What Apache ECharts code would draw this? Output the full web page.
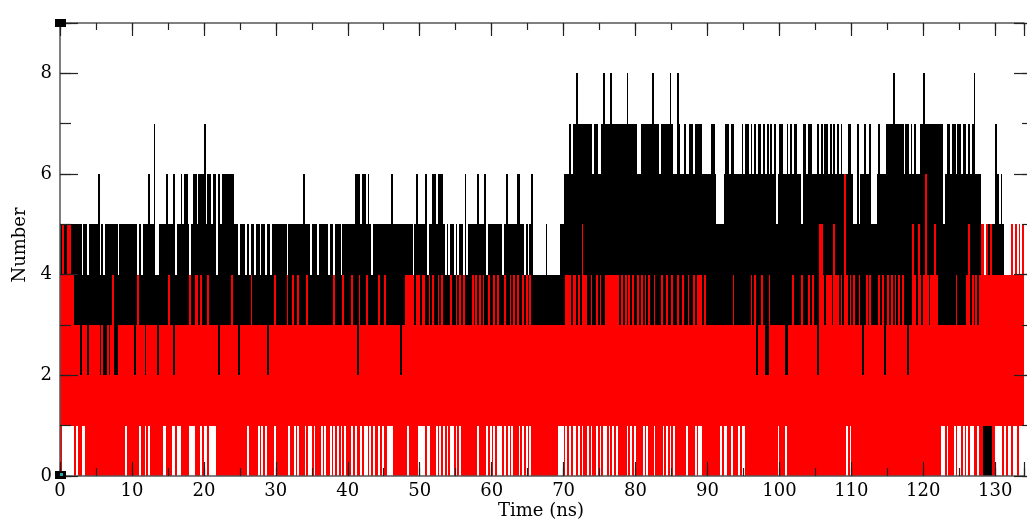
<!DOCTYPE html>
<html>
<head>
<meta charset="utf-8">
<script src="https://cdn.jsdelivr.net/npm/echarts@6/dist/echarts.min.js"></script>
<style>
html,body{margin:0;padding:0;background:#fff;}
#chart{width:1027px;height:519px;}
</style>
</head>
<body>
<div id="chart"></div>
<script>
// Time axis: one bin every 0.25 ns, 0 .. 135 ns
const binWidth = 0.25;
const xTicks = [0, 10, 20, 30, 40, 50, 60, 70, 80, 90, 100, 110, 120, 130];
const yTicks = [0, 2, 4, 6, 8];

// Black series: per-bin upper envelope
const blackHigh =
 "5555555555 5545545555 5645455555 5545555555 5554545556 5574455556 5556455656 6545665666 7566566465 6666666554 " +
 "5554545545 5455455455 5555554555 5555565554 5554555554 5545554555 5555666566 5654555555 5555655555 5555554565 " +
 "5556455665 6665454554 5455464555 5565556455 5555554565 5555665545 4564444444 5444444455 6667677877 7777776776 " +
 "6787778777 7777787777 7667777778 7776777778 7668766766 7767777666 6677655556 7767766667 6776767677 6767676756 " +
 "7766767677 6657767766 6767677676 7676766677 6557566766 7555676667 7778777776 7767676677 8777777777 7567767767 " +
 "7677676786 6655455455 7656533333 3333333333";
// Black series: per-bin lower envelope
const blackLow =
 "3333333333 3233323333 3323223233 2233333333 3233333233 3333233333 3332333333 3333333333 3333333323 3333333332 " +
 "3333333333 3333323333 3333333333 3333333333 3333333333 3333333333 3333323333 3333333333 3333333332 3333333333 " +
 "3333333333 3333333333 3333333333 3333333333 3333333333 3333333333 3333333333 3333333333 3333333333 3333333333 " +
 "3333333333 3333333333 3333333333 3333333333 3333333333 3333333333 3333333333 3333333333 3333333233 3322333333 " +
 "3332233333 3333333333 3233333333 3333333333 3333332333 3333333323 3333333333 3233333333 3333333333 3333333333 " +
 "3333333333 3330000033 3333333333 3333333333";
// Red series: per-bin upper envelope
const redHigh =
 "4544554433 3233323333 3323223234 2233333333 3234333233 3333233333 4332333333 3343344343 3343333323 3333343332 " +
 "3333334333 3333323334 3333334334 3343333433 3333333333 3343333433 3343324333 4333333433 4333333332 3344444344 " +
 "3443343433 4343333433 4343433334 3434343343 3434333433 4343433434 3433333333 3333333333 3444344343 5443343343 " +
 "4334444444 4343434343 3434343433 4333433433 4334334334 3343444343 3333333333 3333433333 3333434233 4322433333 " +
 "3332233433 3343334343 3255434443 5443436434 3433432343 4333343423 4343434343 3233543543 4643445433 3333333343 " +
 "3333453434 3455454544 4444444445 4545454444";
// Red series: per-bin lower envelope
const redLow =
 "0111111101 0011000000 0000000000 0000001000 0000100101 0000000110 0011011000 0011100010 1101111000 0000000000 " +
 "0000100000 1010100001 0000000100 1010001011 0100010100 1010101010 0010100101 1010100101 0011100000 0001000001 " +
 "1110110001 0101010110 1010000000 0010000101 0101110101 0100010101 0100000000 0000000111 0101011010 1001010010 " +
 "1011010101 0000010101 0000101000 1000010101 0100000010 0001011000 0000000101 1001000101 1000000000 0000000001 " +
 "0001000000 0000000000 0000000000 0000000101 0000000000 0000000000 0000000000 0000000000 0000000000 1101000101 " +
 "1010101100 1001111100 1111010110 1101110101";

function decode(s) { return s.replace(/\s+/g, '').split('').map(Number); }
const bh = decode(blackHigh), bl = decode(blackLow), rh = decode(redHigh), rl = decode(redLow);
[bh, bl, rh, rl].forEach((a, k) => { if (a.length !== 540) throw new Error('len ' + k + ' = ' + a.length); });

function rows(lo, hi) {
  return lo.map((v, i) => [i * binWidth, v, hi[i]]);
}
const blackData = rows(bl, bh);
const redData = rows(rl, rh);

function bandRenderer(color) {
  return function (params, api) {
    const t = api.value(0);
    const p0 = api.coord([t, api.value(2)]);
    const p1 = api.coord([t + binWidth, api.value(1)]);
    const x0 = Math.round(p0[0]), x1 = Math.round(p1[0]);
    const y0 = Math.round(p0[1]), y1 = Math.round(p1[1]);
    return {
      type: 'rect',
      shape: { x: x0, y: y0, width: Math.max(x1 - x0, 0), height: Math.max(y1 - y0, 1) },
      style: { fill: color, stroke: null }
    };
  };
}

const FONT = 'DejaVu Serif';
const axisCol = '#555';
const tickCol = '#222';

function xAx(pos, interval, major, labels, line) {
  return {
    type: 'value', position: pos, min: 0, max: 134, interval: interval, z: 5,
    axisLine: { show: line, onZero: false, lineStyle: { color: axisCol, width: 1.5 } },
    axisTick: { show: true, inside: true, length: major, lineStyle: { color: tickCol, width: 1.2 } },
    axisLabel: { show: labels, fontFamily: FONT, fontSize: 18, color: '#000', margin: 6,
      formatter: v => (xTicks.indexOf(v) >= 0 ? String(v) : '') },
    splitLine: { show: false }
  };
}
function yAx(pos, interval, major, labels, line, offset) {
  return {
    type: 'value', position: pos, min: 0, max: 9, interval: interval, z: 5, offset: offset,
    axisLine: { show: line, onZero: false, lineStyle: { color: axisCol, width: 1.5 } },
    axisTick: { show: true, inside: true, length: major, lineStyle: { color: tickCol, width: 1.2 } },
    axisLabel: { show: labels, fontFamily: FONT, fontSize: 18, color: '#000', margin: 8,
      formatter: v => (yTicks.indexOf(v) >= 0 ? String(v) : '') },
    splitLine: { show: false }
  };
}

const chart = echarts.init(document.getElementById('chart'), null, { renderer: 'canvas' });
chart.setOption({
  animation: false,
  backgroundColor: '#fff',
  grid: { left: 60, top: 23, width: 967, height: 453, containLabel: false },
  xAxis: [
    xAx('bottom', 10, 14, true, true),
    xAx('bottom', 5, 8, false, false),
    xAx('top', 10, 13, false, true),
    xAx('top', 5, 7, false, false)
  ],
  yAxis: [
    yAx('left', 2, 18, true, true, 0),
    yAx('left', 1, 11, false, false, 0),
    yAx('right', 2, 18, false, true, 8),
    yAx('right', 1, 10, false, false, 8)
  ],
  series: [
    { type: 'custom', name: 'black', data: blackData, xAxisIndex: 0, yAxisIndex: 0,
      renderItem: bandRenderer('#000000'), silent: true, clip: true, z: 2,
      encode: { x: 0, y: [1, 2] } },
    { type: 'custom', name: 'red', data: redData, xAxisIndex: 0, yAxisIndex: 0,
      renderItem: bandRenderer('#ff0000'), silent: true, clip: true, z: 3,
      encode: { x: 0, y: [1, 2] } }
  ],
  graphic: [
    { type: 'text', left: 498, top: 502, z: 20,
      style: { text: 'Time (ns)', font: '18px "DejaVu Serif"', fill: '#000' } },
    { type: 'text', x: 20, y: 245, rotation: Math.PI / 2, z: 20,
      style: { text: 'Number', font: '18px "DejaVu Serif"', fill: '#000', textAlign: 'center', textVerticalAlign: 'middle' } },
    { type: 'rect', shape: { x: 55, y: 19, width: 11, height: 8 }, style: { fill: '#000' }, z: 20 },
    { type: 'rect', shape: { x: 55, y: 471, width: 11, height: 8 }, style: { fill: '#000' }, z: 20 },
    { type: 'rect', shape: { x: 60, y: 473, width: 3, height: 3 }, style: { fill: '#2aa' }, z: 21 }
  ]
});
</script>
</body>
</html>
